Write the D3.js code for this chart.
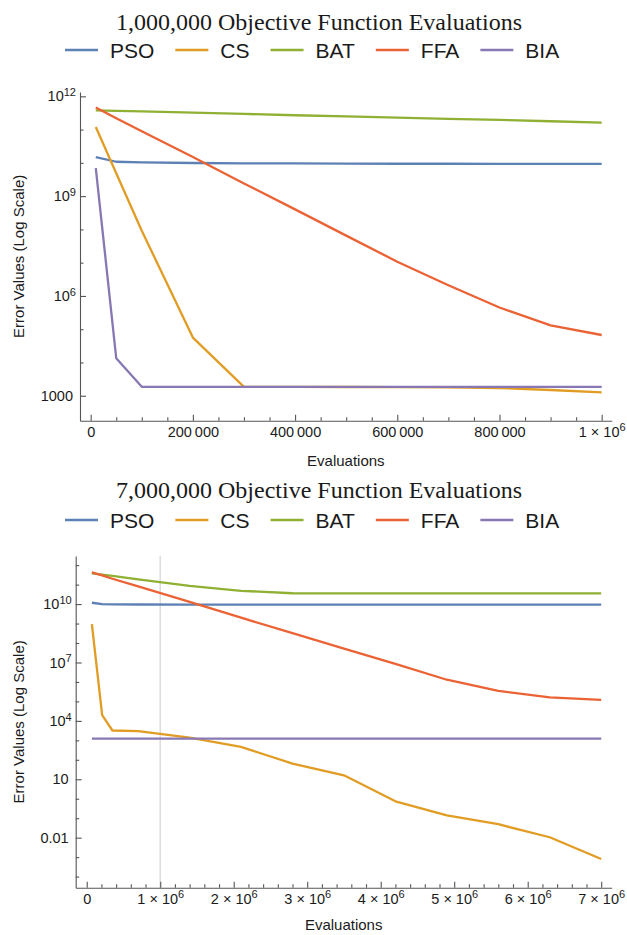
<!DOCTYPE html>
<html>
<head>
<meta charset="utf-8">
<script src="https://cdn.jsdelivr.net/npm/d3@7"></script>
<style>
  body { margin: 0; background: #fff; }
  text { font-family: "Liberation Sans", Arial, sans-serif; fill: #1a1a1a; }
  .title { font-family: "Liberation Serif", "Times New Roman", serif; font-size: 24px; }
</style>
</head>
<body>
<svg id="chart" width="627" height="935"></svg>
<script>
// series names + Mathematica default colours
var names = ["PSO", "CS", "BAT", "FFA", "BIA"];
var colors = ["#5e81b5", "#e19c24", "#8fb032", "#eb6235", "#8778b3"];

// ---- 1,000,000 evaluations ----
var evals1 = [10000, 50000, 100000, 200000, 300000, 400000, 500000, 600000, 700000, 800000, 900000, 1000000];
var pso1 = [1.5e10, 1.08e10, 1.04e10, 9.9e9, 9.7e9, 9.6e9, 9.5e9, 9.4e9, 9.4e9, 9.3e9, 9.3e9, 9.3e9];
var cs1  = [1.2e11, 4.9e9, 9.1e7, 5.6e4, 1850, 1840, 1830, 1810, 1780, 1700, 1490, 1260];
var bat1 = [3.8e11, 3.67e11, 3.52e11, 3.24e11, 2.95e11, 2.7e11, 2.5e11, 2.3e11, 2.1e11, 1.95e11, 1.78e11, 1.62e11];
var ffa1 = [4.6e11, 2.2e11, 8.9e10, 1.5e10, 2.4e9, 4e8, 6.5e7, 1.07e7, 2.1e6, 4.5e5, 1.3e5, 6.7e4];
var bia1 = [7e9, 1.35e4, 1850, 1850, 1850, 1850, 1850, 1850, 1850, 1850, 1850, 1850];
var xTicks1 = [0, 200000, 400000, 600000, 800000, 1000000];
var xLabels1 = ["0", "200\u2009000", "400\u2009000", "600\u2009000", "800\u2009000", "1 \u00d7 10^6"];
var yTicks1 = [1e3, 1e6, 1e9, 1e12];
var yLabels1 = ["1000", "10^6", "10^9", "10^12"];

// ---- 7,000,000 evaluations ----
var evals7 = [70000, 210000, 350000, 700000, 1400000, 2100000, 2800000, 3500000, 4200000, 4900000, 5600000, 6300000, 7000000];
var pso7 = [1.17e10, 1.0e10, 9.7e9, 9.5e9, 9.4e9, 9.3e9, 9.3e9, 9.3e9, 9.3e9, 9.3e9, 9.3e9, 9.3e9, 9.3e9];
var cs7  = [9.3e8, 1.95e4, 3200, 3000, 1380, 460, 64, 16, 0.74, 0.14, 0.049, 0.0105, 8e-4];
var bat7 = [3.8e11, 3.3e11, 2.8e11, 1.86e11, 8.7e10, 4.8e10, 3.6e10, 3.55e10, 3.55e10, 3.55e10, 3.55e10, 3.55e10, 3.55e10];
var ffa7 = [4.3e11, 2.95e11, 2.0e11, 8.1e10, 1.3e10, 2.0e9, 3.2e8, 5.1e7, 8.5e6, 1.3e6, 3.5e5, 1.6e5, 1.2e5];
var bia7 = [1230, 1230, 1230, 1230, 1230, 1230, 1230, 1230, 1230, 1230, 1230, 1230, 1230];
var xTicks7 = [0, 1e6, 2e6, 3e6, 4e6, 5e6, 6e6, 7e6];
var xLabels7 = ["0", "1 \u00d7 10^6", "2 \u00d7 10^6", "3 \u00d7 10^6", "4 \u00d7 10^6", "5 \u00d7 10^6", "6 \u00d7 10^6", "7 \u00d7 10^6"];
var yTicks7 = [0.01, 10, 1e4, 1e7, 1e10];
var yLabels7 = ["0.01", "10", "10^4", "10^7", "10^10"];

var svg = d3.select("#chart");

// split "10^6" style labels into base + superscript
function supLabels(sel, isY) {
  sel.selectAll(".tick text").each(function () {
    var t = d3.select(this), s = t.text();
    if (s.indexOf("^") < 0) return;
    var parts = s.split("^");
    t.text(null);
    t.append("tspan").text(parts[0]);
    t.append("tspan").attr("dy", "-0.5em").attr("font-size", "0.76em").text(parts[1]);
    if (isY) t.attr("x", -4);
  });
}

function panel(o) {
  var g = svg.append("g");

  g.append("text").attr("class", "title")
    .attr("x", 319).attr("y", o.titleY)
    .attr("text-anchor", "middle")
    .text(o.title);

  // legend
  var lx = 65;
  names.forEach(function (n, i) {
    g.append("line")
      .attr("x1", lx).attr("x2", lx + 33)
      .attr("y1", o.legendY).attr("y2", o.legendY)
      .attr("stroke", colors[i]).attr("stroke-width", 2.4);
    var t = g.append("text")
      .attr("x", lx + 45).attr("y", o.legendY + 7.5)
      .attr("font-size", "21px")
      .text(n);
    lx = lx + 45 + t.node().getComputedTextLength() + 21;
  });

  var x = d3.scaleLinear().domain(o.xDomain).range([o.left, o.right]);
  var y = d3.scaleLog().domain(o.yDomain).range([o.bottom, o.top]);

  if (o.grid != null) {
    g.append("line")
      .attr("x1", x(o.grid)).attr("x2", x(o.grid))
      .attr("y1", o.top).attr("y2", o.bottom)
      .attr("stroke", "#dcdcdc").attr("stroke-width", 1.5);
  }

  // minor ticks
  var xMinor = d3.range(0, o.xTicks[o.xTicks.length - 1] + 1, o.xMinorStep)
    .filter(function (v) { return o.xTicks.indexOf(v) < 0; });
  var e0 = Math.ceil(Math.log10(o.yDomain[0])), e1 = Math.floor(Math.log10(o.yDomain[1]));
  var yMinor = d3.range(e0, e1 + 1).map(function (e) { return Math.pow(10, e); })
    .filter(function (v) {
      return !o.yTicks.some(function (t) { return Math.abs(Math.log10(t) - Math.log10(v)) < 1e-6; });
    });

  var axX = g.append("g").attr("transform", "translate(0," + o.bottom + ")")
    .call(d3.axisBottom(x).tickValues(o.xTicks).tickSize(-6).tickSizeOuter(0).tickPadding(6)
      .tickFormat(function (d, i) { return o.xLabels[i]; }));
  g.append("g").attr("transform", "translate(0," + o.bottom + ")")
    .call(d3.axisBottom(x).tickValues(xMinor).tickSize(-3.5).tickSizeOuter(0).tickFormat(""))
    .select(".domain").remove();

  var axY = g.append("g").attr("transform", "translate(" + o.left + ",0)")
    .call(d3.axisLeft(y).tickValues(o.yTicks).tickSize(-6).tickSizeOuter(0).tickPadding(7)
      .tickFormat(function (d, i) { return o.yLabels[i]; }));
  g.append("g").attr("transform", "translate(" + o.left + ",0)")
    .call(d3.axisLeft(y).tickValues(yMinor).tickSize(-3.5).tickSizeOuter(0).tickFormat(""))
    .select(".domain").remove();

  g.selectAll(".domain, .tick line").attr("stroke", "#555").attr("stroke-width", 1.1);
  g.selectAll(".tick text").attr("font-size", "14.5px").attr("fill", "#1a1a1a")
    .attr("font-family", "Liberation Sans, Arial, sans-serif");
  supLabels(axX, false);
  supLabels(axY, true);

  // axis titles
  g.append("text")
    .attr("x", (o.left + o.right) / 2).attr("y", o.xLabelY)
    .attr("text-anchor", "middle").attr("font-size", "15px")
    .text("Evaluations");
  g.append("text")
    .attr("transform", "translate(24," + ((o.top + o.bottom) / 2) + ") rotate(-90)")
    .attr("text-anchor", "middle").attr("font-size", "15px")
    .text("Error Values (Log Scale)");

  var line = d3.line()
    .x(function (d) { return x(d[0]); })
    .y(function (d) { return y(d[1]); });

  o.series.forEach(function (s, i) {
    g.append("path")
      .datum(o.evals.map(function (e, j) { return [e, s[j]]; }))
      .attr("fill", "none")
      .attr("stroke", colors[i])
      .attr("stroke-width", 2.3)
      .attr("stroke-linejoin", "round")
      .attr("d", line);
  });
}

panel({
  title: "1,000,000 Objective Function Evaluations",
  titleY: 30, legendY: 50,
  left: 80, right: 611.7, top: 92, bottom: 420.7,
  xDomain: [-20900, 1019600], yDomain: [Math.pow(10, 2.25), Math.pow(10, 12.13)],
  xTicks: xTicks1, xLabels: xLabels1, xMinorStep: 50000,
  yTicks: yTicks1, yLabels: yLabels1,
  xLabelY: 466, grid: null,
  evals: evals1, series: [pso1, cs1, bat1, ffa1, bia1]
});

panel({
  title: "7,000,000 Objective Function Evaluations",
  titleY: 498, legendY: 520,
  left: 75.7, right: 611.7, top: 556, bottom: 887.7,
  xDomain: [-150000, 7142900], yDomain: [Math.pow(10, -4.57), Math.pow(10, 12.47)],
  xTicks: xTicks7, xLabels: xLabels7, xMinorStep: 200000,
  yTicks: yTicks7, yLabels: yLabels7,
  xLabelY: 930, grid: 1e6,
  evals: evals7, series: [pso7, cs7, bat7, ffa7, bia7]
});
</script>
</body>
</html>
